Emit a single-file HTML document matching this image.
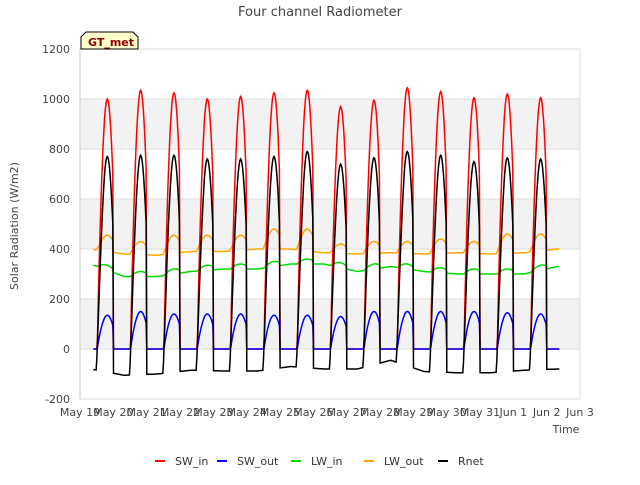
<!DOCTYPE html>
<html><head><meta charset="utf-8"><style>
body{margin:0;background:#fff;font-family:"Liberation Sans","DejaVu Sans",sans-serif;}
svg text{font-family:"DejaVu Sans","Liberation Sans",sans-serif;}
</style></head><body>
<svg id="c" width="640" height="480" viewBox="0 0 640 480">
<text x="320" y="16" text-anchor="middle" font-size="13" fill="#444">Four channel Radiometer</text>
<g id="grid"></g>
<g id="axes"></g>
<g id="series"></g>
<g>
<path d="M81,49 L81,37 L86,32 L133,32 L138,37 L138,49 Z" fill="#ffffcc" stroke="#000" stroke-width="1"/>
<text x="88" y="46" font-size="11" font-weight="bold" fill="#8b0000">GT_met</text>
</g>
<text x="18" y="226" transform="rotate(-90 18 226)" text-anchor="middle" font-size="11" fill="#444">Solar Radiation (W/m2)</text>
<text x="566" y="433" text-anchor="middle" font-size="11" fill="#444">Time</text>
<g id="legend"></g>
</svg>
<script>
const yTicks=[-200,0,200,400,600,800,1000,1200];
const xTickLabels=["May 19","May 20","May 21","May 22","May 23","May 24","May 25","May 26","May 27","May 28","May 29","May 30","May 31","Jun 1","Jun 2","Jun 3"];
const swInPeak=[1000,1035,1025,1000,1010,1025,1035,970,995,1045,1030,1005,1020,1005];
const swOutPeak=[135,150,140,140,140,135,135,130,150,150,150,150,145,140];
const rnetPeak=[770,775,775,760,760,770,790,740,765,790,775,750,765,760];
const rnetNight=[-80,-105,-100,-85,-88,-88,-70,-80,-80,-45,-90,-95,-95,-85,-80];
const lwInBase=[340,290,290,310,320,320,340,340,310,330,310,300,300,300,330];
const lwOutMax=[455,430,455,455,455,480,480,420,430,430,440,430,460,460];
const lwOutNight=[400,380,375,390,390,400,400,385,380,385,380,385,380,385,400];
const seriesNames=["SW_in","SW_out","LW_in","LW_out","Rnet"];
const seriesColors=["#ff0000","#0000ff","#00dd00","#ffa500","#000000"];

const L=80,R=580,T=49,B=399;
const X=d=>L+(d/15)*(R-L);
const Y=v=>T+(1200-v)/1400*(B-T);
const NS="http://www.w3.org/2000/svg";
function mk(tag,attrs,parent){const e=document.createElementNS(NS,tag);for(const k in attrs)e.setAttribute(k,attrs[k]);parent.appendChild(e);return e;}
const grid=document.getElementById('grid'),axes=document.getElementById('axes'),ser=document.getElementById('series'),leg=document.getElementById('legend');
for(let i=0;i<yTicks.length-1;i++){
  if(i%2==1){const r=mk('rect',{x:L,y:Y(yTicks[i+1]),width:R-L,height:Y(yTicks[i])-Y(yTicks[i+1]),fill:'#f2f2f2'},grid);
  
  }
}
yTicks.forEach(v=>{
  const l=mk('line',{x1:L,x2:R,y1:Y(v),y2:Y(v),stroke:'#dddddd'},grid);
  
  
  const t=mk('text',{x:L-10,y:Y(v)+4,'text-anchor':'end','font-size':11,fill:'#444'},axes);
  t.textContent=v;
  
  
});
mk('line',{x1:L,x2:L,y1:T,y2:B,stroke:'#ccc'},axes);
mk('line',{x1:R,x2:R,y1:T,y2:B,stroke:'#ddd'},axes);
xTickLabels.forEach((s,i)=>{
  const t=mk('text',{x:X(i),y:B+17,'text-anchor':'middle','font-size':11,fill:'#444'},axes);
  t.textContent=s;
  
  
});
// night anchors at d+0.32; interpolate
function nightVal(arr,t){
  const p=t-0.32; let i=Math.floor(p); const fr=p-i;
  const a=arr[Math.max(0,Math.min(arr.length-1,i))], b=arr[Math.max(0,Math.min(arr.length-1,i+1))];
  return a+(b-a)*fr;
}
const pts=[[],[],[],[],[]];
for(let t=0.4;t<=14.4;t+=1/48){
  const d=Math.floor(t),f=t-d;
  const di=Math.min(d,13);
  const u=(f-0.82)/0.3;
  let s=0; if(Math.abs(u)<1) s=Math.pow(Math.cos(u*Math.PI/2),0.85);
  let w=0; const u2=u*0.3/0.33; if(Math.abs(u2)<1) w=Math.pow(Math.cos(u2*Math.PI/2),1.1);
  const sw=swInPeak[di]*s, so=swOutPeak[di]*s;
  const rn=nightVal(rnetNight,t);
  const rnet=rn+(rnetPeak[di]-rn)*w;
  const lin=nightVal(lwInBase,t)+20*s;
  const lon=nightVal(lwOutNight,t);
  const lout=lon+(lwOutMax[di]-lon)*w;
  const x=X(t);
  pts[0].push([x,Y(sw)]);pts[1].push([x,Y(so)]);pts[2].push([x,Y(lin)]);pts[3].push([x,Y(lout)]);pts[4].push([x,Y(rnet)]);
}
const order=[3,2,0,1,4];
order.forEach(i=>{
  const p=mk('polyline',{points:pts[i].map(q=>q[0].toFixed(1)+','+q[1].toFixed(1)).join(' '),fill:'none',stroke:seriesColors[i],'stroke-width':1.5},ser);
  
  
});
const lx=[160,222,296,369,443];
seriesNames.forEach((n,i)=>{
  const g=mk('g',{},leg);
  
  
  mk('line',{x1:lx[i]-5,x2:lx[i]+5,y1:461,y2:461,stroke:seriesColors[i],'stroke-width':2},g);
  const t=mk('text',{x:lx[i]+15,y:465,'font-size':11,fill:'#333'},g);
  t.textContent=n;
});
</script>
</body></html>
